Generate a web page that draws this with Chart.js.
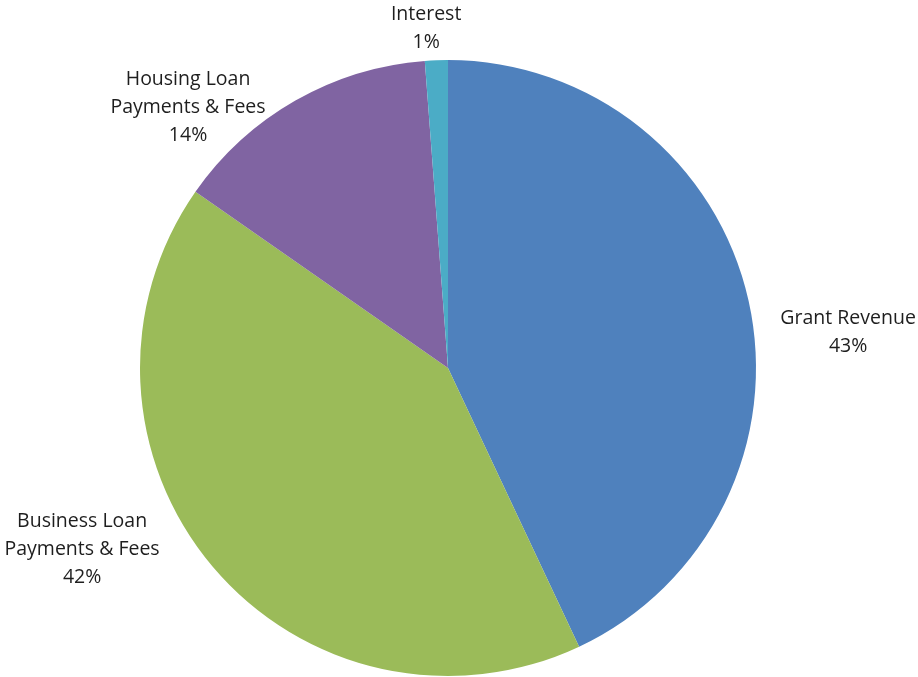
<!DOCTYPE html>
<html>
<head>
<meta charset="utf-8">
<script src="https://cdn.jsdelivr.net/npm/chart.js@4/dist/chart.umd.min.js"></script>
<style>
    body { margin: 0; background: #fff; }
    #wrap { width: 918px; height: 677px; }
</style>
</head>
<body>
<div id="wrap"><canvas id="chartRevenue" width="918" height="677"></canvas></div>
<script>
// slices, clockwise from 12 o'clock
let categorias = [
    ['Grant Revenue'],
    ['Business Loan', 'Payments & Fees'],
    ['Housing Loan', 'Payments & Fees'],
    ['Interest']
];
let valores = [43.0, 41.7, 14.1, 1.2];
let cores = ['#4f81bd', '#9bbb59', '#8064a2', '#4bacc6'];

// where each label block sits, in units of the radius from the centre
let posLabels = [
    [1.299, -0.117],
    [-1.188, 0.588],
    [-0.844, -0.847],
    [-0.071, -1.104]
];

let labelsPlugin = {
    id: 'labelsFora',
    afterDatasetsDraw(chart) {
        let ctx = chart.ctx;
        let meta = chart.getDatasetMeta(0);
        let total = valores.reduce((a, b) => a + b, 0);
        ctx.save();
        ctx.font = '19.5px "Open Sans"';
        ctx.fillStyle = '#1e1e1e';
        ctx.textAlign = 'center';
        ctx.textBaseline = 'middle';
        let lineH = 28;
        meta.data.forEach((arc, i) => {
            let r = arc.outerRadius;
            let cx = arc.x + posLabels[i][0] * r;
            let cy = arc.y + posLabels[i][1] * r;
            let linhas = categorias[i].concat([Math.round(valores[i] / total * 100) + '%']);
            let y0 = cy - (linhas.length - 1) * lineH / 2;
            linhas.forEach((t, j) => {
                ctx.fillText(t, cx, y0 + j * lineH);
            });
        });
        ctx.restore();
    }
};

let contextRevenue = document.querySelector('#chartRevenue').getContext('2d');

let config = {
    type: 'pie',
    data: {
        labels: categorias.map(c => c.join(' ')),
        datasets: [{
            data: valores,
            backgroundColor: cores,
            borderWidth: 0
        }]
    },
    options: {
        responsive: false,
        animation: false,
        layout: {
            padding: { left: 140, right: 162, top: 60, bottom: 1 }
        },
        plugins: {
            legend: { display: false },
            tooltip: { enabled: false }
        }
    },
    plugins: [labelsPlugin]
};

let chartRevenue = new Chart(contextRevenue, config);
</script>
</body>
</html>
